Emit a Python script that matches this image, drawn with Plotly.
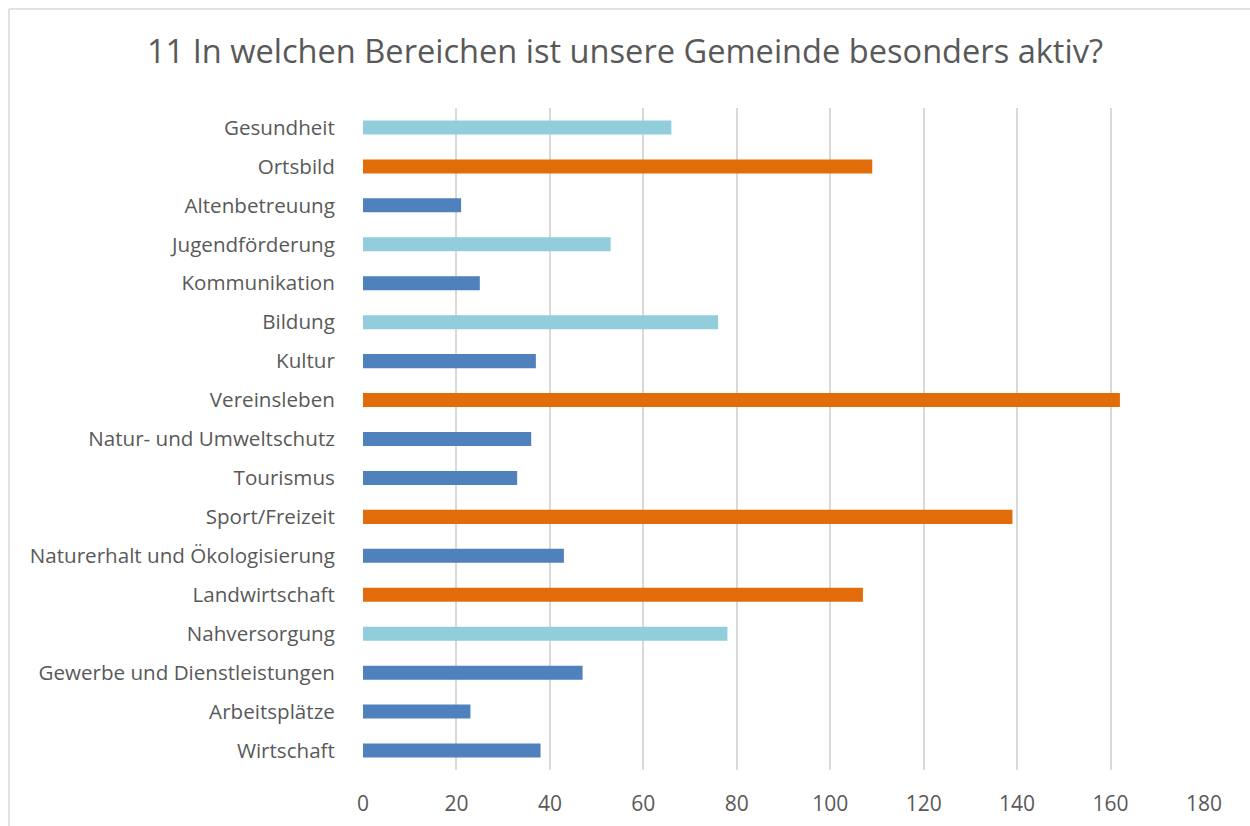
import plotly.graph_objects as go

title = "11 In welchen Bereichen ist unsere Gemeinde besonders aktiv?"

categories = [
    "Gesundheit", "Ortsbild", "Altenbetreuung", "Jugendförderung",
    "Kommunikation", "Bildung", "Kultur", "Vereinsleben",
    "Natur- und Umweltschutz", "Tourismus", "Sport/Freizeit",
    "Naturerhalt und Ökologisierung", "Landwirtschaft", "Nahversorgung",
    "Gewerbe und Dienstleistungen", "Arbeitsplätze", "Wirtschaft",
]
values = [66, 109, 21, 53, 25, 76, 37, 162, 36, 33, 139, 43, 107, 78, 47, 23, 38]
groups = ["mid", "top", "low", "mid", "low", "mid", "low", "top", "low", "low",
          "top", "low", "top", "mid", "low", "low", "low"]
x_ticks = [0, 20, 40, 60, 80, 100, 120, 140, 160, 180]

group_colors = {"top": "#E36C0A", "mid": "#92CDDC", "low": "#4F81BD"}

W, H = 1250, 826
ML, MR, MT, MB = 363, 46, 108, 56

fig = go.Figure(
    go.Bar(
        y=categories,
        x=values,
        orientation="h",
        marker=dict(color=[group_colors[g] for g in groups], line=dict(width=0)),
        width=0.36,
        hoverinfo="x+y",
    )
)

pw = W - ML - MR
ph = H - MT - MB

fig.update_layout(
    width=W,
    height=H,
    margin=dict(l=ML, r=MR, t=MT, b=MB, pad=0),
    paper_bgcolor="white",
    plot_bgcolor="white",
    showlegend=False,
    font=dict(family="Open Sans, Noto Sans, sans-serif", color="#595959", size=20),
    title=dict(
        text=title,
        x=0.5,
        xanchor="center",
        y=1 - 52 / H,
        yanchor="middle",
        font=dict(size=32.6, color="#595959"),
    ),
    xaxis=dict(
        range=[0, 180],
        tickvals=x_ticks,
        showgrid=True,
        gridcolor="#D9D9D9",
        gridwidth=1.5,
        zeroline=False,
        showline=False,
        ticks="outside",
        ticklen=15,
        tickcolor="rgba(0,0,0,0)",
        tickfont=dict(size=21, color="#595959"),
        automargin=False,
        fixedrange=True,
    ),
    yaxis=dict(
        categoryorder="array",
        categoryarray=categories,
        autorange="reversed",
        showgrid=False,
        zeroline=False,
        showline=False,
        ticks="outside",
        ticklen=23,
        tickcolor="rgba(0,0,0,0)",
        tickfont=dict(size=20.6, color="#595959"),
        automargin=False,
        fixedrange=True,
    ),
    bargap=0.64,
)

# outer chart border (left and top edges visible, rest cropped)
x_left = (9 - ML) / pw
y_top = 1 + (MT - 9) / ph
fig.add_shape(type="line", xref="paper", yref="paper",
              x0=x_left, x1=x_left, y0=y_top, y1=-1,
              line=dict(color="#D9D9D9", width=1.5))
fig.add_shape(type="line", xref="paper", yref="paper",
              x0=x_left, x1=2, y0=y_top, y1=y_top,
              line=dict(color="#D9D9D9", width=1.5))

fig.write_html(
    "out.html",
    config={"displayModeBar": False},
    post_script="document.body.style.margin='0';document.body.style.overflow='hidden';",
)
